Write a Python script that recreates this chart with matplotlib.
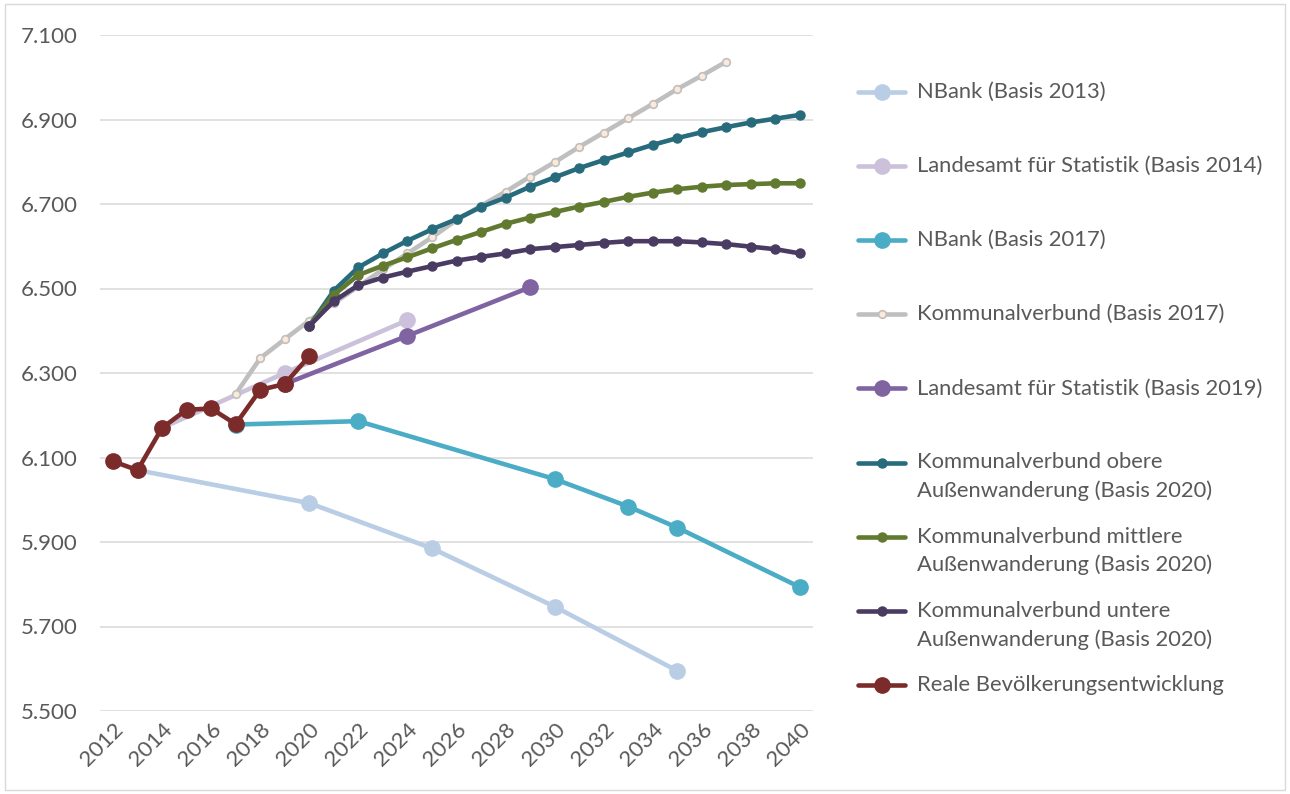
import matplotlib.pyplot as plt
from matplotlib.ticker import FuncFormatter, MultipleLocator
from matplotlib.patches import Rectangle
from matplotlib.lines import Line2D

plt.rcParams['font.family'] = ['Lato', 'DejaVu Sans']

# Bevölkerungsprognosen (in Einwohnern)
years_nbank13 = [2013, 2020, 2025, 2030, 2035]
nbank13 = [6070, 5992, 5885, 5747, 5595]

years_lfs14 = [2014, 2019, 2024]
lfs14 = [6170, 6300, 6425]

years_nbank17 = [2017, 2022, 2030, 2033, 2035, 2040]
nbank17 = [6178, 6186, 6049, 5984, 5934, 5793]

years_kv17 = list(range(2017, 2038))
kv17 = [6250, 6335, 6380, 6424, 6465, 6505, 6545, 6583, 6621, 6662, 6696,
        6729, 6765, 6799, 6835, 6869, 6903, 6937, 6972, 7004, 7037]

years_lfs19 = [2019, 2024, 2029]
lfs19 = [6274, 6388, 6503]

years_kv20 = list(range(2020, 2041))
kv20_obere = [6411, 6495, 6550, 6583, 6613, 6640, 6664, 6693, 6715, 6741, 6763,
              6785, 6804, 6822, 6840, 6856, 6870, 6882, 6893, 6902, 6911]
kv20_mittlere = [6411, 6485, 6532, 6554, 6574, 6595, 6615, 6634, 6653, 6668, 6681,
                 6694, 6705, 6717, 6727, 6735, 6741, 6745, 6747, 6749, 6749]
kv20_untere = [6411, 6470, 6508, 6526, 6540, 6553, 6566, 6575, 6583, 6593, 6598,
               6603, 6608, 6612, 6612, 6612, 6609, 6605, 6599, 6593, 6583]

years_real = list(range(2012, 2021))
real = [6091, 6070, 6170, 6213, 6216, 6179, 6260, 6274, 6340]

y_ticks = list(range(5500, 7101, 200))

text_color = '#595959'
W, H = 1290, 794

fig = plt.figure(figsize=(W / 100, H / 100), dpi=100)
ax = fig.add_axes([100 / W, 1 - 711 / H, 713 / W, 676 / H])

lw = 3.3
big = 11
small = 6.5

ax.plot(years_nbank13, nbank13, color='#B9CDE5', lw=lw, marker='o', ms=big,
        label='NBank (Basis 2013)')
ax.plot(years_lfs14, lfs14, color='#CCC1DA', lw=lw, marker='o', ms=big,
        label='Landesamt für Statistik (Basis 2014)')
ax.plot(years_nbank17, nbank17, color='#4BACC6', lw=lw, marker='o', ms=big,
        label='NBank (Basis 2017)')
ax.plot(years_kv17, kv17, color='#BFBFBF', lw=lw, marker='o', ms=5.5,
        mfc='#FDE9D9', mec='#BFBFBF', mew=1.2,
        label='Kommunalverbund (Basis 2017)')
ax.plot(years_lfs19, lfs19, color='#8064A2', lw=lw, marker='o', ms=big,
        label='Landesamt für Statistik (Basis 2019)')
ax.plot(years_kv20, kv20_obere, color='#276B7C', lw=lw, marker='o', ms=small,
        label='Kommunalverbund obere\nAußenwanderung (Basis 2020)')
ax.plot(years_kv20, kv20_mittlere, color='#617A30', lw=lw, marker='o', ms=small,
        label='Kommunalverbund mittlere\nAußenwanderung (Basis 2020)')
ax.plot(years_kv20, kv20_untere, color='#4A3B63', lw=lw, marker='o', ms=small,
        label='Kommunalverbund untere\nAußenwanderung (Basis 2020)')
ax.plot(years_real, real, color='#7B2C2A', lw=lw, marker='o', ms=big,
        label='Reale Bevölkerungsentwicklung')

ax.set_xlim(2011.47, 2040.53)
ax.set_ylim(5500, 7100)
ax.xaxis.set_major_locator(MultipleLocator(2))
ax.set_yticks(y_ticks)
ax.yaxis.set_major_formatter(FuncFormatter(lambda v, p: f'{v:,.0f}'.replace(',', '.')))

ax.grid(axis='y', color='#D9D9D9', lw=1.1)
ax.set_axisbelow(True)
for s in ax.spines.values():
    s.set_visible(False)
ax.tick_params(length=0, labelsize=16, colors=text_color)
ax.tick_params(axis='y', pad=16)
ax.tick_params(axis='x', pad=6)
for lab in ax.get_xticklabels():
    lab.set_rotation(45)
    lab.set_ha('right')
    lab.set_va('top')
    lab.set_rotation_mode('anchor')

# Legende: Einträge gleichmäßig verteilt, Symbol auf Höhe der ersten Textzeile
leg_top, leg_step = 92, 74.1
for i, line in enumerate(ax.get_lines()):
    yf = 1 - (leg_top + i * leg_step) / H
    fig.add_artist(Line2D([858 / W, 905 / W], [yf, yf], transform=fig.transFigure,
                          color=line.get_color(), lw=lw, solid_capstyle='round'))
    fig.add_artist(Line2D([881.5 / W], [yf], transform=fig.transFigure,
                          marker='o', ms=line.get_markersize(),
                          mfc=line.get_markerfacecolor(),
                          mec=line.get_markeredgecolor(),
                          mew=line.get_markeredgewidth(), lw=0))
    fig.text(917 / W, yf + 10 / H, line.get_label(), fontsize=15.8,
             color=text_color, va='top', ha='left', linespacing=1.5)

# Rahmen um das Diagramm
fig.add_artist(Rectangle((5 / W, 4 / H), 1280 / W, 786 / H,
                         transform=fig.transFigure, fill=False,
                         edgecolor='#D9D9D9', lw=1))

fig.savefig('out.png', dpi=100)
